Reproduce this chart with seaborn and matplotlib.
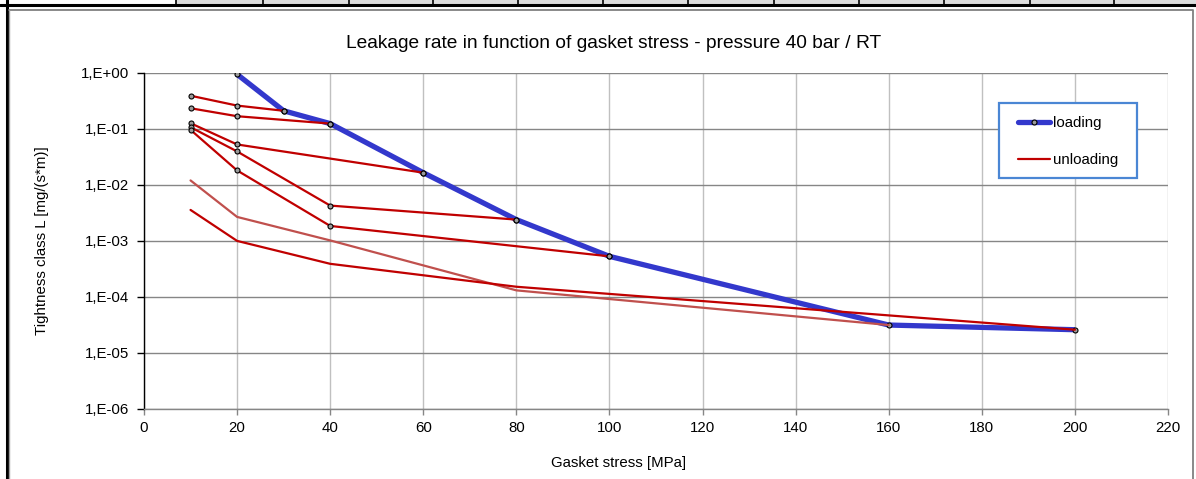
import numpy as np
import pandas as pd
import matplotlib.pyplot as plt
import seaborn as sns
from matplotlib.patches import Rectangle
from matplotlib.lines import Line2D
from matplotlib.ticker import FixedLocator, FuncFormatter, NullLocator

# Loading curve (gasket stress in MPa, leakage rate in mg/(s*m))
stress_loading = [20, 30, 40, 60, 80, 100, 160, 200]
leak_loading = [0.94, 0.21, 0.124, 0.0165, 0.0024, 5.3e-4, 3.15e-5, 2.6e-5]

# Unloading curves, each one starts on the loading curve
unload_30_x = [30, 20, 10]
unload_30_y = [0.21, 0.26, 0.39]
unload_40_x = [40, 20, 10]
unload_40_y = [0.124, 0.168, 0.233]
unload_60_x = [60, 20, 10]
unload_60_y = [0.0165, 0.0526, 0.126]
unload_80_x = [80, 40, 20, 10]
unload_80_y = [0.0024, 0.00427, 0.0395, 0.107]
unload_100_x = [100, 40, 20, 10]
unload_100_y = [5.3e-4, 0.00185, 0.0181, 0.096]
unload_160_x = [160, 80, 40, 20, 10]
unload_160_y = [3.15e-5, 1.31e-4, 1.02e-3, 0.00268, 0.012]
unload_200_x = [200, 80, 40, 20, 10]
unload_200_y = [2.6e-5, 1.52e-4, 3.9e-4, 1.0e-3, 0.00357]

x_ticks = list(range(0, 221, 20))
y_exponents = list(range(-6, 1))

W, H = 1196, 479

sns.set_style("white")
plt.rcParams['font.family'] = ['Liberation Sans', 'DejaVu Sans']
FS = 10.8


def fx(px):
    return px / W


def fy(py):
    return 1 - py / H


fig = plt.figure(figsize=(W / 100, H / 100), dpi=100)

# spreadsheet bits around the chart object
fig.patches.append(Rectangle((fx(176), fy(4)), fx(1196) - fx(176), fy(0) - fy(4),
                             transform=fig.transFigure, facecolor='#DDDDDD', edgecolor='none'))
for cx in [176, 263, 349, 433, 518, 603, 688, 774, 859, 944, 1030, 1114]:
    fig.lines.append(Line2D([fx(cx), fx(cx)], [fy(0), fy(4)], transform=fig.transFigure,
                            color='black', lw=1.2))
fig.lines.append(Line2D([0, 1], [fy(5), fy(5)], transform=fig.transFigure, color='black', lw=2.2))
fig.lines.append(Line2D([fx(7), fx(7)], [0, 1], transform=fig.transFigure, color='black', lw=2.2))
# chart area border
fig.lines.append(Line2D([fx(9), fx(1193), fx(1193)], [fy(10), fy(10), 0], transform=fig.transFigure,
                        color='#808080', lw=1.3))
fig.lines.append(Line2D([fx(9), fx(9)], [fy(10), 0], transform=fig.transFigure,
                        color='#A0A0A0', lw=1.0))

ax = fig.add_axes([fx(144), fy(409), fx(1168) - fx(144), fy(72.8) - fy(409)])

marker_kw = dict(marker='o', markersize=3.6, markerfacecolor='#9A9A9A',
                 markeredgecolor='black', markeredgewidth=0.8)

sns.lineplot(x=stress_loading, y=leak_loading, ax=ax, color='#3338CC', linewidth=3.8,
             sort=False, zorder=2, solid_capstyle='butt', **marker_kw)

for xs, ys in [(unload_30_x, unload_30_y), (unload_40_x, unload_40_y),
               (unload_60_x, unload_60_y), (unload_80_x, unload_80_y),
               (unload_100_x, unload_100_y)]:
    sns.lineplot(x=xs, y=ys, ax=ax, color='#C00000', linewidth=1.6, sort=False,
                 zorder=3, **marker_kw)

sns.lineplot(x=unload_160_x, y=unload_160_y, ax=ax, color='#C0504D', linewidth=1.6,
             sort=False, zorder=3)
sns.lineplot(x=unload_200_x, y=unload_200_y, ax=ax, color='#C00000', linewidth=1.6,
             sort=False, zorder=3)

ax.set_yscale('log')
ax.set_xlim(0, 220)
ax.set_ylim(1e-6, 1)
ax.xaxis.set_major_locator(FixedLocator(x_ticks))
ax.yaxis.set_major_locator(FixedLocator([10.0 ** e for e in y_exponents]))
ax.yaxis.set_minor_locator(NullLocator())
ax.yaxis.set_major_formatter(FuncFormatter(lambda v, p: f"1,E{int(round(np.log10(v))):+03d}"))

ax.grid(True, axis='y', color='#868686', linewidth=1.0)
ax.grid(True, axis='x', color='#C0C0C0', linewidth=1.0)
ax.set_axisbelow(True)

for side in ['top', 'right']:
    ax.spines[side].set_visible(False)
ax.spines['left'].set_color('black')
ax.spines['left'].set_linewidth(1.0)
ax.spines['bottom'].set_color('#868686')
ax.spines['bottom'].set_linewidth(1.0)

ax.tick_params(axis='y', direction='out', length=5, width=1, color='black', pad=6,
               labelsize=FS, labelcolor='black', left=True)
ax.tick_params(axis='x', direction='out', length=4, width=1, color='#868686', pad=5,
               labelsize=FS, labelcolor='black', bottom=True)
ax.set_xlabel('')
ax.set_ylabel('')

fig.text(fx(614), fy(44), 'Leakage rate in function of gasket stress - pressure 40 bar / RT',
         ha='center', va='center', fontsize=13.75, color='black')
fig.text(fx(619), fy(463), 'Gasket stress [MPa]', ha='center', va='center', fontsize=FS, color='black')
fig.text(fx(42), fy(241), 'Tightness class L [mg/(s*m)]', ha='center', va='center',
         rotation=90, fontsize=FS, color='black')

# legend with its own frame
fig.patches.append(Rectangle((fx(999), fy(178)), fx(1137) - fx(999), fy(103) - fy(178),
                             transform=fig.transFigure, facecolor='white',
                             edgecolor='#4A86D4', linewidth=1.6, zorder=5))
handles = [Line2D([], [], color='#3338CC', linewidth=3.8, **marker_kw),
           Line2D([], [], color='#C00000', linewidth=1.6)]
leg = fig.legend(handles, ['loading', 'unloading'], loc='upper left',
                 bbox_to_anchor=(fx(1018), fy(116)), bbox_transform=fig.transFigure,
                 frameon=False, borderpad=0, borderaxespad=0, fontsize=FS,
                 handlelength=2.15, handletextpad=0.15, labelspacing=1.55, markerscale=1.0)
leg.set_zorder(6)
for t in leg.get_texts():
    t.set_color('black')

fig.savefig('out.png', dpi=100)
